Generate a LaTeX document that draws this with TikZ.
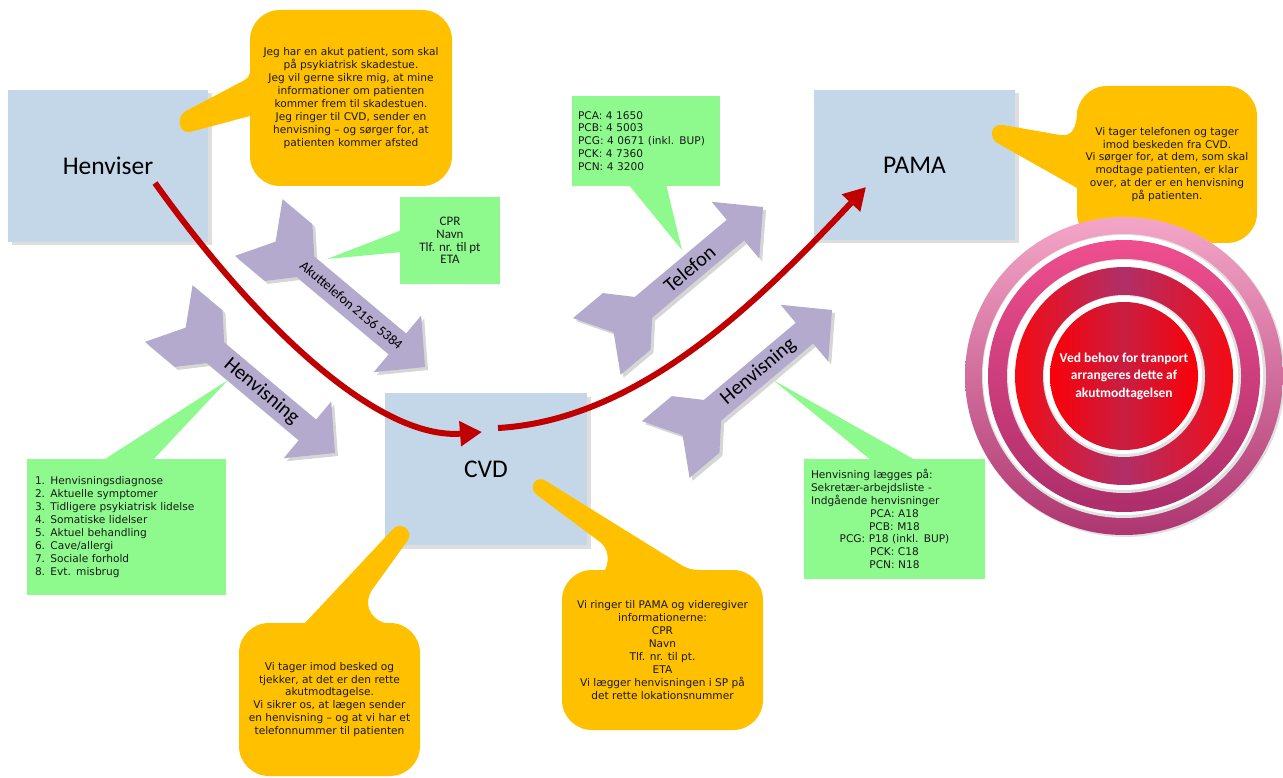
\documentclass[tikz,border=0pt]{standalone}
\usepackage{fontspec}
\setmainfont{DejaVu Sans}
\newfontfamily\calfont{Carlito}
\usetikzlibrary{arrows.meta,shadows,calc}
\definecolor{boxblue}{HTML}{C4D7E9}
\definecolor{yelc}{HTML}{FFC000}
\definecolor{grnc}{HTML}{8EFA8E}
\definecolor{purc}{HTML}{B4AACD}
\definecolor{redc}{HTML}{C00000}
\definecolor{ringAt}{HTML}{F4A6C8}
\definecolor{ringAb}{HTML}{AE3670}
\definecolor{ringBt}{HTML}{EE4E8E}
\definecolor{ringBb}{HTML}{AC2E6A}
\definecolor{ringCe}{HTML}{F50A12}
\definecolor{ringCm}{HTML}{B02F68}
\definecolor{discE}{HTML}{FA0008}
\definecolor{discM}{HTML}{C81E42}
\newcommand\vtxt{\fontsize{10.6pt}{12.9pt}\selectfont}
\begin{document}
\begin{tikzpicture}[x=1pt,y=-1pt,
  bluebox/.style={fill=boxblue, minimum width=200pt, minimum height=152pt, inner sep=0pt,
    font=\calfont\fontsize{25.5pt}{28pt}\selectfont,
    drop shadow={shadow xshift=3.5pt, shadow yshift=-3.5pt, fill=black!13, opacity=1}},
  ycall/.style={fill=yelc, rounded corners=30pt, align=center, inner sep=0pt, font=\vtxt, text=black!90},
  gbox/.style={fill=grnc, inner sep=0pt, font=\vtxt, text=black!90},
  arrowtext/.style={font=\calfont\fontsize{20.5pt}{22pt}\selectfont, text=black},
  redarr/.style={draw=redc, line width=6pt, -{Triangle[length=22pt,width=24pt]}},
  fletch/.pic={\path[pic actions] (0,0) -- (-36,-37) -- (-36,-13.5) -- (-156,-13.5) -- (-178,-37)
      -- (-217,-37) -- (-195,0) -- (-217,37) -- (-178,37) -- (-156,13.5) -- (-36,13.5) -- (-36,37) -- cycle;}
]
\useasboundingbox (0,0) rectangle (1283,778);

% blue process boxes
\node[bluebox] (hen) at (108,166) {Henviser};
\node[bluebox, minimum width=202pt] (cvd) at (486,469) {CVD};
\node[bluebox, minimum width=201pt, minimum height=150pt] (pama) at (914.5,165) {PAMA};

% green note boxes with tails
\fill[grnc] (402,230) -- (327,259) -- (402,252) -- cycle;
\node[gbox, minimum width=100pt, minimum height=87pt, align=center, font=\calfont\fontsize{13pt}{12.6pt}\selectfont] (g1) at (450,240.5)
  {CPR\\Navn\\Tlf. nr. til pt\\ETA};
\fill[grnc] (628,184) -- (682,250) -- (666,184) -- cycle;
\node[gbox, minimum height=90pt, text width=136pt, inner xsep=6pt, align=left] (g2) at (646,141)
  {PCA: 4 1650\\PCB: 4 5003\\PCG: 4 0671 (inkl. BUP)\\PCK: 4 7360\\PCN: 4 3200};
\fill[grnc] (102,461) -- (228,380) -- (152,461) -- cycle;
\node[gbox, minimum height=136pt, text width=183pt, inner xsep=8pt, align=left] (g3) at (126.5,527)
  {1. Henvisningsdiagnose\\2. Aktuelle symptomer\\3. Tidligere psykiatrisk lidelse\\4. Somatiske lidelser\\5. Aktuel behandling\\6. Cave/allergi\\7. Sociale forhold\\8. Evt. misbrug};
\fill[grnc] (872,461) -- (773,380) -- (917,461) -- cycle;
\node[gbox, minimum height=120pt, text width=167pt, inner xsep=7pt, align=left] (g4) at (894.5,519)
  {Henvisning lægges på:\\Sekretær-arbejdsliste -\\Indgående henvisninger\\
   \makebox[167pt][c]{PCA: A18}\\\makebox[167pt][c]{PCB: M18}\\\makebox[167pt][c]{PCG: P18 (inkl. BUP)}\\
   \makebox[167pt][c]{PCK: C18}\\\makebox[167pt][c]{PCN: N18}};

% purple fletched arrows
\pic[fill=black!16, rotate=-40] at (428,370) {fletch};
\pic[fill=purc, rotate=-40] at (425,367) {fletch};
\pic[fill=black!16, rotate=-40] at (338,456) {fletch};
\pic[fill=purc, rotate=-40] at (335,453) {fletch};
\pic[fill=black!16, rotate=40] at (766,210) {fletch};
\pic[fill=purc, rotate=40] at (763,207) {fletch};
\pic[fill=black!16, rotate=40] at (835,313) {fletch};
\pic[fill=purc, rotate=40] at (832,310) {fletch};
\node[arrowtext, font=\calfont\fontsize{14pt}{16pt}\selectfont, rotate=-40] (tA) at (351.5,305.3) {Akuttelefon 2156 5384};
\node[arrowtext, rotate=-40] (tB) at (261.5,391.3) {Henvisning};
\node[arrowtext, rotate=40] (tC) at (689.5,268.7) {Telefon};
\node[arrowtext, rotate=40] (tD) at (758.5,371.7) {Henvisning};

% red flow arrows
\coordinate (r1s) at (155,183);
\coordinate (r1e) at (482,432);
\coordinate (r2s) at (498,428);
\coordinate (r2e) at (866,187);
\draw[redarr] (r1s) .. controls (260,330) and (380,440) .. (r1e);
\draw[redarr] (r2s) .. controls (640,420) and (760,300) .. (r2e);

% yellow speech callouts
\fill[yelc] (262,70) -- (250,70) .. controls (250,76) and (248,78) .. (243,81) -- (186,111)
  .. controls (176,116) and (178,134) .. (190,132) -- (250,116) -- (262,116) -- cycle;
\node[ycall, minimum width=202pt, minimum height=176pt] (c1) at (351,98)
  {Jeg har en akut patient, som skal\\på psykiatrisk skadestue.\\Jeg vil gerne sikre mig, at mine\\informationer om patienten\\kommer frem til skadestuen.\\Jeg ringer til CVD, sender en\\henvisning – og sørger for, at\\patienten kommer afsted};
\fill[yelc] (1090,110) -- (1077,110) .. controls (1077,128) and (1072,137) .. (1060,135) -- (1003,125)
  .. controls (990,123) and (988,139) .. (999,144) -- (1077,188) -- (1090,188) -- cycle;
\node[ycall, minimum width=180pt, minimum height=157pt] (c2) at (1167,164.5)
  {Vi tager telefonen og tager\\imod beskeden fra CVD.\\Vi sørger for, at dem, som skal\\modtage patienten, er klar\\over, at der er en henvisning\\på patienten.};
\fill[yelc] (300,632) -- (305,623) -- (393,529) .. controls (400,521) and (414,530) .. (408,540)
  -- (372,590) .. controls (364,602) and (368,618) .. (385,623) -- (390,632) -- cycle;
\node[ycall, minimum width=181pt, minimum height=153pt] (c3) at (329.5,699.5)
  {Vi tager imod besked og\\tjekker, at det er den rette\\akutmodtagelse.\\Vi sikrer os, at lægen sender\\en henvisning – og at vi har et\\telefonnummer til patienten};
\fill[yelc] (600,582) -- (605,570) .. controls (610,560) and (608,548) .. (600,542) -- (537,495)
  .. controls (527,488) and (536,474) .. (546,481) -- (678,563) .. controls (684,567) and (690,570) .. (700,570)
  -- (700,582) -- cycle;
\node[ycall, minimum width=201pt, minimum height=160pt] (c4) at (662.5,650)
  {Vi ringer til PAMA og videregiver\\informationerne:\\CPR\\Navn\\Tlf. nr. til pt.\\ETA\\Vi lægger henvisningen i SP på\\det rette lokationsnummer};

% target circle
\coordinate (tc) at (1124,376);
\fill[black!12] ($(tc)+(1.5,1.5)$) circle[radius=159.5pt];
\shade[top color=ringAt, bottom color=ringAb] (tc) circle[radius=159pt];
\fill[black!12] (tc) circle[radius=142pt];
\fill[white] ($(tc)+(-1,-1)$) circle[radius=140pt];
\shade[top color=ringBt, bottom color=ringBb] (tc) circle[radius=136pt];
\fill[black!12] (tc) circle[radius=117pt];
\fill[white] ($(tc)+(-1,-1)$) circle[radius=115pt];
\shade[left color=ringCe, right color=ringCe, middle color=ringCm] (tc) circle[radius=109pt];
\fill[black!12] (tc) circle[radius=81pt];
\fill[white] ($(tc)+(-1,-1)$) circle[radius=79pt];
\shade[left color=discE, right color=discE, middle color=discM] (tc) circle[radius=74pt];
\node[font=\calfont\bfseries\fontsize{13.5pt}{17.5pt}\selectfont, text=white, align=center] (tr) at (tc)
  {Ved behov for tranport\\arrangeres dette af\\akutmodtagelsen};
\end{tikzpicture}
\end{document}
